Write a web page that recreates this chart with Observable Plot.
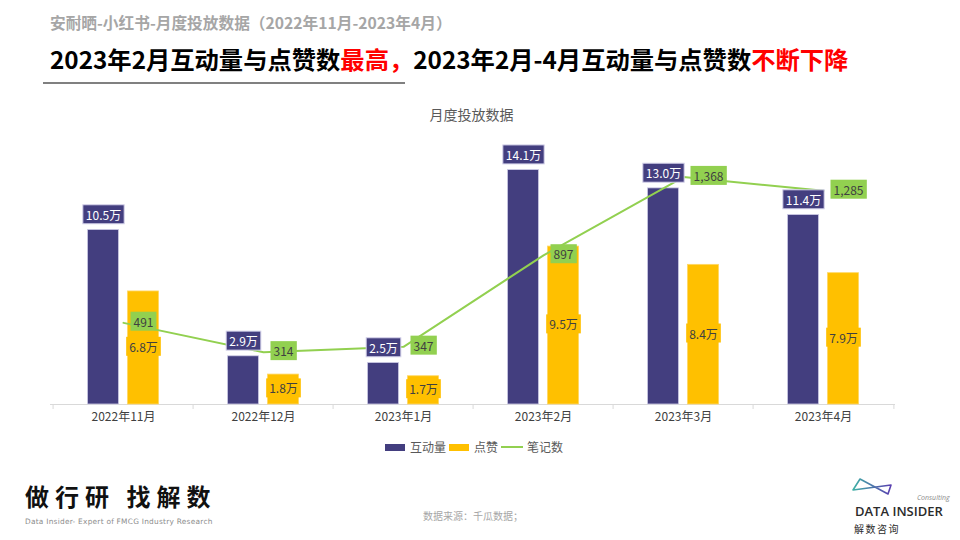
<!DOCTYPE html>
<html>
<head>
<meta charset="utf-8">
<script src="https://cdn.jsdelivr.net/npm/d3@7"></script>
<script src="https://cdn.jsdelivr.net/npm/@observablehq/plot@0.6"></script>
<style>
  html, body { margin: 0; padding: 0; background: #fff; }
  body { width: 960px; height: 540px; position: relative; overflow: hidden;
         font-family: "Noto Sans CJK SC", "Noto Sans", sans-serif; }
  .abs { position: absolute; white-space: nowrap; }
  #sub { left: 50px; top: 14px; font-size: 15.7px; line-height: 18px; font-weight: bold; color: #a6a6a6; }
  #head { left: 50px; top: 46px; font-size: 24.3px; line-height: 26px; font-weight: bold; color: #000; }
  #head .red { color: #ff0000; }
  #rule { left: 43px; top: 82px; width: 362px; height: 2px; background: #808080; }
  #ctitle { left: 0; width: 943px; text-align: center; top: 105px; font-size: 14px; line-height: 18px; color: #595959; }
  #chart { position: absolute; left: 0; top: 128px; }
  #legend { left: 385px; top: 439px; font-size: 12px; line-height: 16px; color: #595959; display: flex; align-items: center; }
  #legend .sw { display: inline-block; width: 20px; height: 7px; margin-right: 5px; }
  #legend .ln { display: inline-block; width: 22px; height: 2px; margin-right: 4px; }
  #legend .it { display: inline-flex; align-items: center; margin-right: 3px; }
  #logoL { left: 25px; top: 482px; font-size: 24px; line-height: 28px; font-weight: bold; letter-spacing: 6px; color: #111; }
  #logoLs { left: 25px; top: 517px; font-size: 7.4px; line-height: 10px; color: #8c8c8c; letter-spacing: 0.25px; font-family: "DejaVu Sans", sans-serif; }
  #src { left: 423px; top: 509px; font-size: 10px; line-height: 14px; color: #a6a6a6; }
  #di { left: 855px; top: 505px; font-size: 13px; line-height: 13px; font-weight: 600; color: #2b2b2b; letter-spacing: 0px; font-family: "Open Sans", sans-serif; }
  #cons { left: 917px; top: 493.5px; font-size: 7px; line-height: 8px; font-style: italic; color: #8c8c8c; font-family: "Open Sans", sans-serif; }
  #jszx { left: 854px; top: 523px; font-size: 10px; line-height: 12px; color: #2b2b2b; letter-spacing: 1.5px; }
  #bow { position: absolute; left: 850px; top: 476px; }
</style>
</head>
<body>
<div id="sub" class="abs">安耐晒-小红书-月度投放数据（2022年11月-2023年4月）</div>
<div id="head" class="abs">2023年2月互动量与点赞数<span class="red">最高，</span>2023年2月-4月互动量与点赞数<span class="red">不断下降</span></div>
<div id="rule" class="abs"></div>
<div id="ctitle" class="abs">月度投放数据</div>
<div id="chart"></div>
<div id="legend" class="abs">
  <span class="it"><span class="sw" style="background:#433E7F"></span>互动量</span>
  <span class="it"><span class="sw" style="background:#FFC000"></span>点赞</span>
  <span class="it"><span class="ln" style="background:#92D050"></span>笔记数</span>
</div>
<div id="logoL" class="abs">做行研 找解数</div>
<div id="logoLs" class="abs">Data Insider- Expert of FMCG Industry Research</div>
<div id="src" class="abs">数据来源：千瓜数据；</div>
<svg id="bow" width="45" height="22" viewBox="0 0 45 22">
  <defs>
    <linearGradient id="bg" x1="0" x2="1" y1="0" y2="0">
      <stop offset="0" stop-color="#3fb0a5"/>
      <stop offset="1" stop-color="#5a3fb0"/>
    </linearGradient>
  </defs>
  <path d="M3,14 L10,3 L38,18 L41,9 Z" fill="none" stroke="url(#bg)" stroke-width="1.6" stroke-linejoin="round"/>
</svg>
<div id="cons" class="abs">Consulting</div>
<div id="di" class="abs">DATA INSIDER</div>
<div id="jszx" class="abs">解数咨询</div>

<script>
// ---- data ----
const months = ["2022年11月", "2022年12月", "2023年1月", "2023年2月", "2023年3月", "2023年4月"];
const interactions = [10.5, 2.9, 2.5, 14.1, 13.0, 11.4];   // 互动量 (万)
const likes = [6.8, 1.8, 1.7, 9.5, 8.4, 7.9];              // 点赞 (万)
const notes = [491, 314, 347, 897, 1368, 1285];            // 笔记数
const yMax = 16;        // primary axis max (万)
const notesMax = 1600;  // secondary axis max

const colInter = "#433E7F", colLikes = "#FFC000", colNotes = "#92D050";

const rows = months.map((m, i) => ({month: m, inter: interactions[i], likes: likes[i], notes: notes[i]}));
const noteY = d => d.notes / notesMax * yMax;

const W = 960, H = 300, mL = 50, mR = 65;
const band = (W - mL - mR) / months.length;
const half = band / 2;

const plot = Plot.plot({
  width: W, height: H,
  marginTop: 10, marginBottom: 24, marginLeft: mL, marginRight: mR,
  x: {type: "band", domain: months, padding: 0, label: null},
  y: {domain: [0, yMax], axis: null},
  style: {fontFamily: "'Noto Sans CJK SC', sans-serif", fontSize: "12px", color: "#404040", background: "transparent", overflow: "visible"},
  marks: [
    Plot.ruleY([0], {stroke: "#d9d9d9", strokeWidth: 1}),
    Plot.ruleX(months, {x: d => d, y1: 0, y2: -0.3, dx: -half, stroke: "#d9d9d9"}),
    Plot.ruleX(months.slice(-1), {x: d => d, y1: 0, y2: -0.3, dx: half, stroke: "#d9d9d9"}),
    Plot.barY(rows, {x: "month", y: "inter", fill: colInter, stroke: "#cfcde6", strokeWidth: 0.8,
                     insetLeft: half - 36, insetRight: half + 4}),
    Plot.barY(rows, {x: "month", y: "likes", fill: colLikes, stroke: "#ffd866", strokeWidth: 0.8,
                     insetLeft: half + 4, insetRight: half - 36}),
    Plot.line(rows, {x: "month", y: noteY, stroke: colNotes, strokeWidth: 2}),
    Plot.text(rows, {x: "month", y: "inter", text: d => d.inter.toFixed(1) + "万", dx: -20, dy: -14,
                     fill: "#ffffff", className: "lbl-inter"}),
    Plot.text(rows, {x: "month", y: d => d.likes / 2, text: d => d.likes.toFixed(1) + "万", dx: 20,
                     fill: "#404040", className: "lbl-likes"}),
    Plot.text(rows, {x: "month", y: noteY, text: d => d3.format(",")(d.notes), dx: 10, textAnchor: "start",
                     fill: "#404040", className: "lbl-notes"}),
    Plot.axisX({tickSize: 0, tickPadding: 8, fontSize: 12, fill: "#404040"})
  ]
});

document.getElementById("chart").appendChild(plot);

// label backgrounds sized to each rendered text
function addBoxes(groups, fill, stroke, padX, padY) {
  groups.forEach(g => {
    g.querySelectorAll("text").forEach(t => {
      const b = t.getBBox();
      const r = document.createElementNS("http://www.w3.org/2000/svg", "rect");
      r.setAttribute("x", b.x - padX);
      r.setAttribute("y", b.y - padY);
      r.setAttribute("width", b.width + 2 * padX);
      r.setAttribute("height", b.height + 2 * padY);
      r.setAttribute("fill", fill);
      r.setAttribute("stroke", stroke);
      r.setAttribute("stroke-width", stroke === "none" ? 0 : 1);
      const tr = t.getAttribute("transform");
      if (tr) r.setAttribute("transform", tr);
      t.parentNode.insertBefore(r, t);
    });
  });
}
const textGroups = Array.from(plot.querySelectorAll('g[aria-label="text"]'));
const pick = (cls, idx) => {
  const g = plot.querySelectorAll("g." + cls);
  return g.length ? Array.from(g) : [textGroups[idx]];
};
addBoxes(pick("lbl-inter", 0), colInter, "#d4d2ea", 3, 1);
addBoxes(pick("lbl-likes", 1), colLikes, "none", 3, 1);
addBoxes(pick("lbl-notes", 2), colNotes, "none", 3, 1);
</script>
</body>
</html>
